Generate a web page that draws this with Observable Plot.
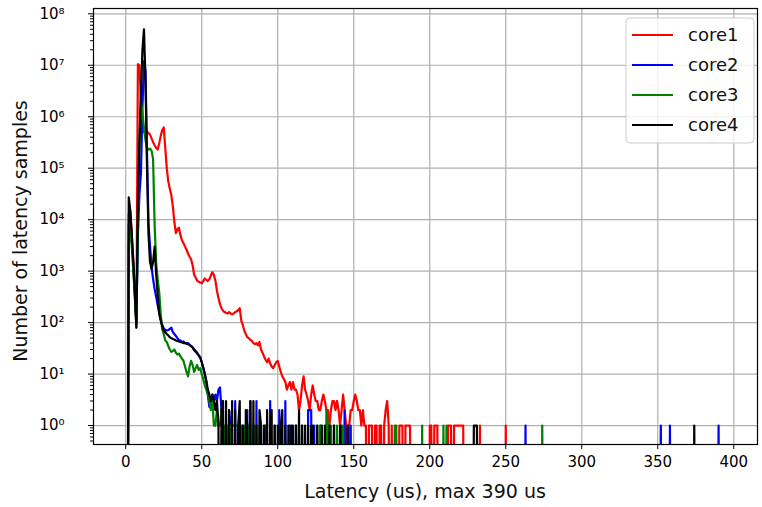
<!DOCTYPE html>
<html><head><meta charset="utf-8">
<script src="https://cdn.jsdelivr.net/npm/d3@7"></script>
<script src="https://cdn.jsdelivr.net/npm/@observablehq/plot@0.6"></script>
<style>html,body{margin:0;padding:0;background:#fff;} svg{display:block}</style>
</head><body><div id="chart"></div>
<script>
// ---- data (latency histogram counts per 1 us bin) ----
const cores = ["core1", "core2", "core3", "core4"];
const coreColors = ["#ff0000", "#0000ff", "#008000", "#000000"];

// counts for bins 0,1,2,... (dense part)
const core1Head = [0, 0, 13000, 15000, 5000, 1600, 420, 80, 10500000, 10000000,
  2000000, 700000, 500000, 550000, 520000, 480000, 450000, 380000, 320000, 280000,
  250000, 230000, 300000, 420000, 550000, 620000, 250000, 100000, 55000, 40000,
  30000, 18000, 9000, 5500, 6500, 7000, 5000, 4000, 3500, 3000,
  2600, 2200, 1900, 1700, 1300, 850, 750, 650, 620, 600,
  580, 640, 720, 680, 640, 700, 820, 950, 850, 650,
  420, 300, 230, 190, 170, 160, 155, 150, 160, 150,
  145, 150, 160, 165, 175, 190, 110, 90, 70, 60,
  52, 50, 46, 44, 40, 38, 40, 36, 42, 30,
  26, 22, 19, 17, 20, 16, 14, 13, 15, 17];
// [bin, count] for the sparse tail (unlisted bins are empty)
const core1Tail = [[100,18],[101,14],[102,11],[103,9],[104,8],[105,7],[106,5],[107,6],[108,7],[109,5],
  [110,7],[111,5],[112,5],[113,4],[114,2],[115,3],[116,6],[117,9],[118,5],[119,4],
  [120,3],[121,2],[122,4],[123,6],[124,4],[125,3],[126,3],[127,2],[128,2],[129,3],
  [130,4],[131,3],[132,2],[133,2],[134,1],[135,2],[136,3],[137,3],[138,2],[139,3],
  [140,2],[141,1],[142,2],[143,4],[144,2],[145,1],[147,1],[148,2],[149,2],[150,3],
  [151,4],[152,3],[153,2],[154,2],[155,1],[156,2],[157,1],[158,1],[160,1],[161,1],
  [162,1],[164,1],[165,1],[167,1],[168,1],[170,1],[171,2],[172,3],[173,1],[175,1],
  [180,1],[181,1],[182,1],[184,1],[185,1],[186,1],[187,1],[200,1],[201,1],[203,1],
  [204,1],[205,1],[212,1],[213,1],[214,1],[216,1],[217,1],[218,1],[219,1],[220,1],
  [221,1],[222,1],[233,1],[250,1]];

const core2Head = [0, 0, 8000, 12000, 4000, 1200, 350, 100, 5000, 30000,
  80000, 1500000, 12000000, 8000000, 200000, 8000, 3000, 1200, 700, 450,
  320, 220, 160, 115, 90, 78, 72, 70, 72, 75,
  80, 65, 60, 55, 50, 46, 45, 42, 43, 40,
  39, 40, 37, 35, 33, 29, 27, 25, 23, 21,
  17, 13, 10, 7, 4, 2.3, 3, 4, 3, 4,
  3, 5, 5.5];
const core2Tail = [[63,2],[64,1],[66,1],[68,2],[69,1],[72,3],[74,1],[77,1],[80,2],[82,3],
  [84,1],[86,3],[89,1],[92,1],[95,3],[98,1],[101,2],[105,3],[108,1],[112,1],
  [116,1],[120,2],[121,2],[122,2],[124,1],[128,1],[134,1],[142,1],[144,2],[146,1],
  [148,1],[263,1],[352,1],[358,1],[390,1]];

const core3Head = [0, 0, 3000, 8000, 3000, 1000, 300, 90, 10000, 300000,
  2000000, 1200000, 600000, 350000, 250000, 230000, 240000, 220000, 150000, 8000,
  1500, 700, 400, 150, 75, 60, 45, 42, 35, 30,
  27, 28, 30, 26, 24, 25, 22, 20, 18, 14,
  11, 9, 14, 18, 15, 11, 13, 15, 12, 13,
  10, 8, 6, 5, 4, 3, 2, 3, 1];
const core3Tail = [[59,1],[60,2],[61,1],[62,1],[63,2],[64,1],[65,1],[67,1],[69,1],[70,1],
  [71,1],[72,1],[73,1],[74,1],[76,1],[78,1],[81,1],[85,1],[88,1],[91,1],
  [112,1],[114,1],[126,1],[128,1],[132,2],[133,1],[135,1],[137,1],[139,1],[141,1],
  [143,1],[177,1],[178,1],[195,1],[209,1],[211,1],[274,1]];

const core4Head = [0, 0, 27000, 15000, 5000, 1500, 400, 80, 20000, 300000,
  3000000, 20000000, 50000000, 5000000, 100000, 5000, 1500, 1100, 1500, 3000,
  900, 350, 150, 110, 85, 70, 65, 60, 56, 52,
  50, 48, 47, 45, 44, 43, 42, 41, 40, 40,
  39, 38, 37, 35, 33, 30, 28, 26, 23, 21,
  17, 13.5, 10, 7.5, 5, 4, 3, 4, 3, 2,
  3];
const core4Tail = [[61,1],[63,2],[64,3],[66,3],[68,2],[70,3],[72,2],[74,1],[75,3],[77,1],
  [79,2],[80,1],[82,3],[84,3],[86,1],[88,2],[89,1],[91,1],[93,2],[95,1],
  [96,2],[98,1],[100,1],[102,1],[103,2],[105,1],[107,1],[109,1],[110,1],[112,1],
  [114,2],[116,1],[118,1],[120,1],[122,1],[123,1],[126,1],[129,1],[131,1],[134,1],
  [137,1],[141,1],[146,1],[229,1],[230,1],[231,1],[374,1]];

const lastBin = 395;
const xTicks = [0, 50, 100, 150, 200, 250, 300, 350, 400];
const xTickLabels = ["0", "50", "100", "150", "200", "250", "300", "350", "400"];
const yTicks = [1, 10, 100, 1e3, 1e4, 1e5, 1e6, 1e7, 1e8];
const yTickLabels = ["10\u2070", "10\u00b9", "10\u00b2", "10\u00b3", "10\u2074", "10\u2075", "10\u2076", "10\u2077", "10\u2078"];
const xLabel = "Latency (us), max 390 us";
const yLabel = "Number of latency samples";

// ---- build rows ----
const EMPTY = 1e-6; // empty bins drop below the axis like matplotlib's clipped log
function build(core, head, tail) {
  const counts = new Array(lastBin + 1).fill(0);
  head.forEach((c, i) => { counts[i] = c; });
  tail.forEach(([b, c]) => { counts[b] = c; });
  return counts.map((c, i) => ({core, bin: i, count: c > 0 ? c : EMPTY}));
}
const rows = [].concat(
  build("core1", core1Head, core1Tail),
  build("core2", core2Head, core2Tail),
  build("core3", core3Head, core3Tail),
  build("core4", core4Head, core4Tail)
);

const yDomain = [0.428, 1.268e8];
const yMinor = [];
for (let e = -1; e <= 8; e++) for (let m = 2; m <= 9; m++) {
  const v = m * Math.pow(10, e);
  if (v >= yDomain[0] && v <= yDomain[1]) yMinor.push(v);
}

const W = 762, H = 507, mL = 93, mR = 5, mT = 8, mB = 63;
const chart = Plot.plot({
  width: W, height: H,
  marginLeft: mL, marginRight: mR, marginTop: mT, marginBottom: mB,
  style: {fontFamily: "'DejaVu Sans', sans-serif", fontSize: "15px", color: "#000", background: "#fff"},
  x: {domain: [-21.2, 415.6]},
  y: {type: "log", domain: yDomain},
  color: {domain: cores, range: coreColors},
  marks: [
    Plot.gridX(xTicks, {stroke: "#b0b0b0", strokeOpacity: 1, strokeWidth: 1.2}),
    Plot.gridY(yTicks, {stroke: "#b0b0b0", strokeOpacity: 1, strokeWidth: 1.2}),
    Plot.line(rows, {x: "bin", y: "count", z: "core", stroke: "core", strokeWidth: 2.2,
      strokeLinejoin: "round", clip: true}),
    Plot.frame({stroke: "#000", strokeWidth: 1.2}),
    Plot.axisX(xTicks, {tickSize: 5, tickPadding: 7, label: null,
      tickFormat: d => xTickLabels[xTicks.indexOf(d)]}),
    Plot.axisY(yMinor, {tickSize: 3, label: null, tickFormat: () => ""}),
    Plot.axisY(yTicks, {tickSize: 5, tickPadding: 24, label: null,
      tickFormat: d => yTickLabels[yTicks.indexOf(d)]})
  ]
});

const svg = d3.select(chart);
// axis labels
svg.append("text").attr("x", (mL + W - mR) / 2).attr("y", 498)
  .attr("text-anchor", "middle").attr("font-size", 19).attr("fill", "#111")
  .attr("font-family", "'DejaVu Sans', sans-serif").text(xLabel);
svg.append("text").attr("transform", `translate(27,${(mT + H - mB) / 2 + 5}) rotate(-90)`)
  .attr("text-anchor", "middle").attr("font-size", 19).attr("fill", "#111")
  .attr("font-family", "'DejaVu Sans', sans-serif").text(yLabel);

// legend
const lg = svg.append("g").attr("font-family", "'DejaVu Sans', sans-serif")
  .attr("font-size", 18).attr("text-anchor", "start");
lg.append("rect").attr("x", 626).attr("y", 18).attr("width", 128).attr("height", 125)
  .attr("rx", 4).attr("fill", "#fff").attr("fill-opacity", 0.8).attr("stroke", "#cccccc");
cores.forEach((c, i) => {
  const y = 35 + i * 30;
  lg.append("line").attr("x1", 632).attr("x2", 673).attr("y1", y).attr("y2", y)
    .attr("stroke", coreColors[i]).attr("stroke-width", 2.2);
  lg.append("text").attr("x", 688).attr("y", y).attr("dy", "0.35em")
    .attr("text-anchor", "start").attr("fill", "#111").text(c);
});

document.getElementById("chart").appendChild(chart);
</script>
</body></html>
